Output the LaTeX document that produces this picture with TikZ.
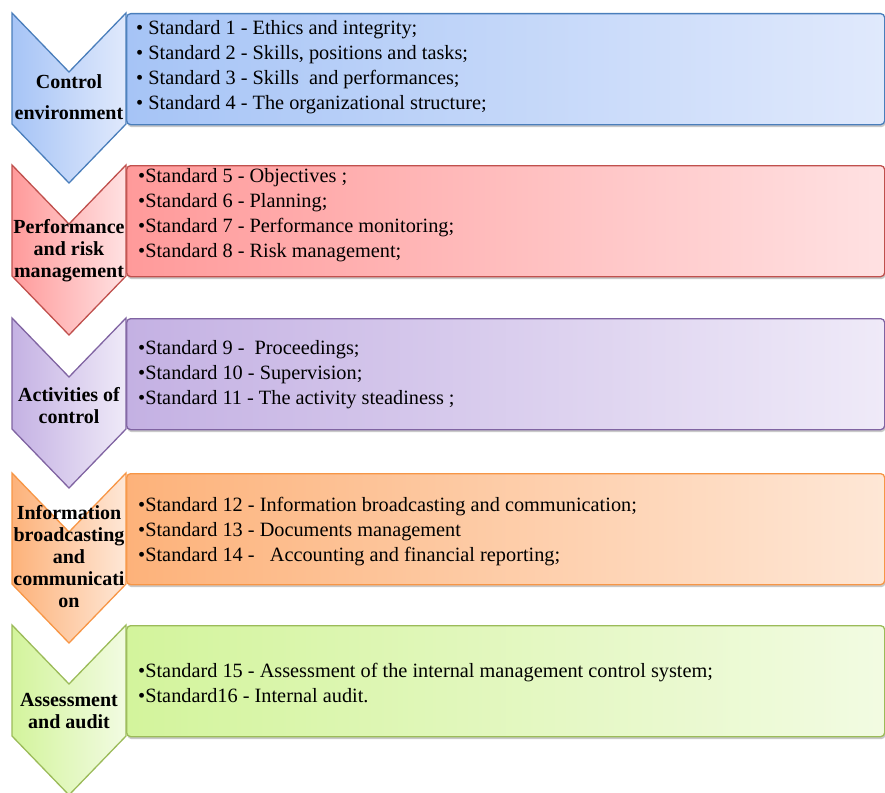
\documentclass[tikz,border=0pt]{standalone}
\usepackage{fontspec}
\setmainfont{Liberation Serif}
\newfontfamily\bodyserif{Liberation Serif}
\usetikzlibrary{shadows}
\definecolor{bluB}{HTML}{4A7EBB}\definecolor{bluL}{HTML}{A6C4F6}\definecolor{bluR}{HTML}{E0E9FC}
\definecolor{redB}{HTML}{C0504D}\definecolor{redL}{HTML}{FF9A9A}\definecolor{redR}{HTML}{FFE1E2}
\definecolor{purB}{HTML}{8064A2}\definecolor{purL}{HTML}{C4B1E3}\definecolor{purR}{HTML}{EFEAF8}
\definecolor{oraB}{HTML}{F79646}\definecolor{oraL}{HTML}{FDB27A}\definecolor{oraR}{HTML}{FEE7D6}
\definecolor{greB}{HTML}{9BBB59}\definecolor{greL}{HTML}{D3F49C}\definecolor{greR}{HTML}{F2FBE2}
\tikzset{
  boxstyle/.style={draw=#1B, line width=1.3pt, left color=#1L, right color=#1R,
    rounded corners=4pt, minimum width=758pt, minimum height=111pt, anchor=north west,
    inner sep=0pt, drop shadow={shadow xshift=0.8pt, shadow yshift=-2.5pt, opacity=0.3, fill=black!70}},
  chevstyle/.style={draw=#1B, line width=1.3pt, left color=#1L, right color=#1R, line join=miter},
  lbl/.style={font=\bodyserif\fontsize{20}{22}\selectfont\bfseries, align=center, inner sep=0pt},
  txt/.style={font=\bodyserif\fontsize{20.3}{25}\selectfont, align=left, anchor=west, inner sep=0pt}
}
\begin{document}
\begin{tikzpicture}[x=1pt,y=-1pt]
\useasboundingbox (0,0) rectangle (885,792);
% boxes
\node[boxstyle=blu] (box1) at (126,13) {};
\node[boxstyle=red] (box2) at (126,165) {};
\node[boxstyle=pur] (box3) at (126,318) {};
\node[boxstyle=ora] (box4) at (126,473) {};
\node[boxstyle=gre] (box5) at (126,625) {};
% chevrons
\foreach \t/\c in {13/blu,165/red,318/pur,473/ora,625/gre}{
  \draw[chevstyle=\c] (12,\t) -- (69,\t+59) -- (126,\t) -- (126,\t+111) -- (69,\t+170) -- (12,\t+111) -- cycle;
}
% chevron labels
\node[lbl] (l1) at (69,97) {Control\\[9pt]environment};
\node[lbl] (l2) at (69,251) {Performance\\and risk\\management};
\node[lbl] (l3) at (69,406) {Activities of\\control};
\node[lbl] (l4) at (69,557) {Information\\broadcasting\\and\\communicati\\on};
\node[lbl] (l5) at (69,711) {Assessment\\and audit};
% box texts
\node[txt] (t1) at (136,67) {• Standard 1 - Ethics and integrity;\\• Standard 2 - Skills, positions and tasks;\\• Standard 3 - Skills\ \ and performances;\\• Standard 4 - The organizational structure;};
\node[txt] (t2) at (138,215) {•Standard 5 - Objectives ;\\•Standard 6 - Planning;\\•Standard 7 - Performance monitoring;\\•Standard 8 - Risk management;};
\node[txt] (t3) at (138,375) {•Standard 9 -\ \ Proceedings;\\•Standard 10 - Supervision;\\•Standard 11\ - The activity steadiness ;};
\node[txt] (t4) at (138,532) {•Standard 12 - Information broadcasting and communication;\\•Standard 13\ - Documents management\\•Standard 14 -\ \ \ Accounting and financial reporting;};
\node[txt] (t5) at (138,683) {•Standard 15\ - Assessment of the internal management control system;\\•Standard16 - Internal audit.};
\end{tikzpicture}
\end{document}
